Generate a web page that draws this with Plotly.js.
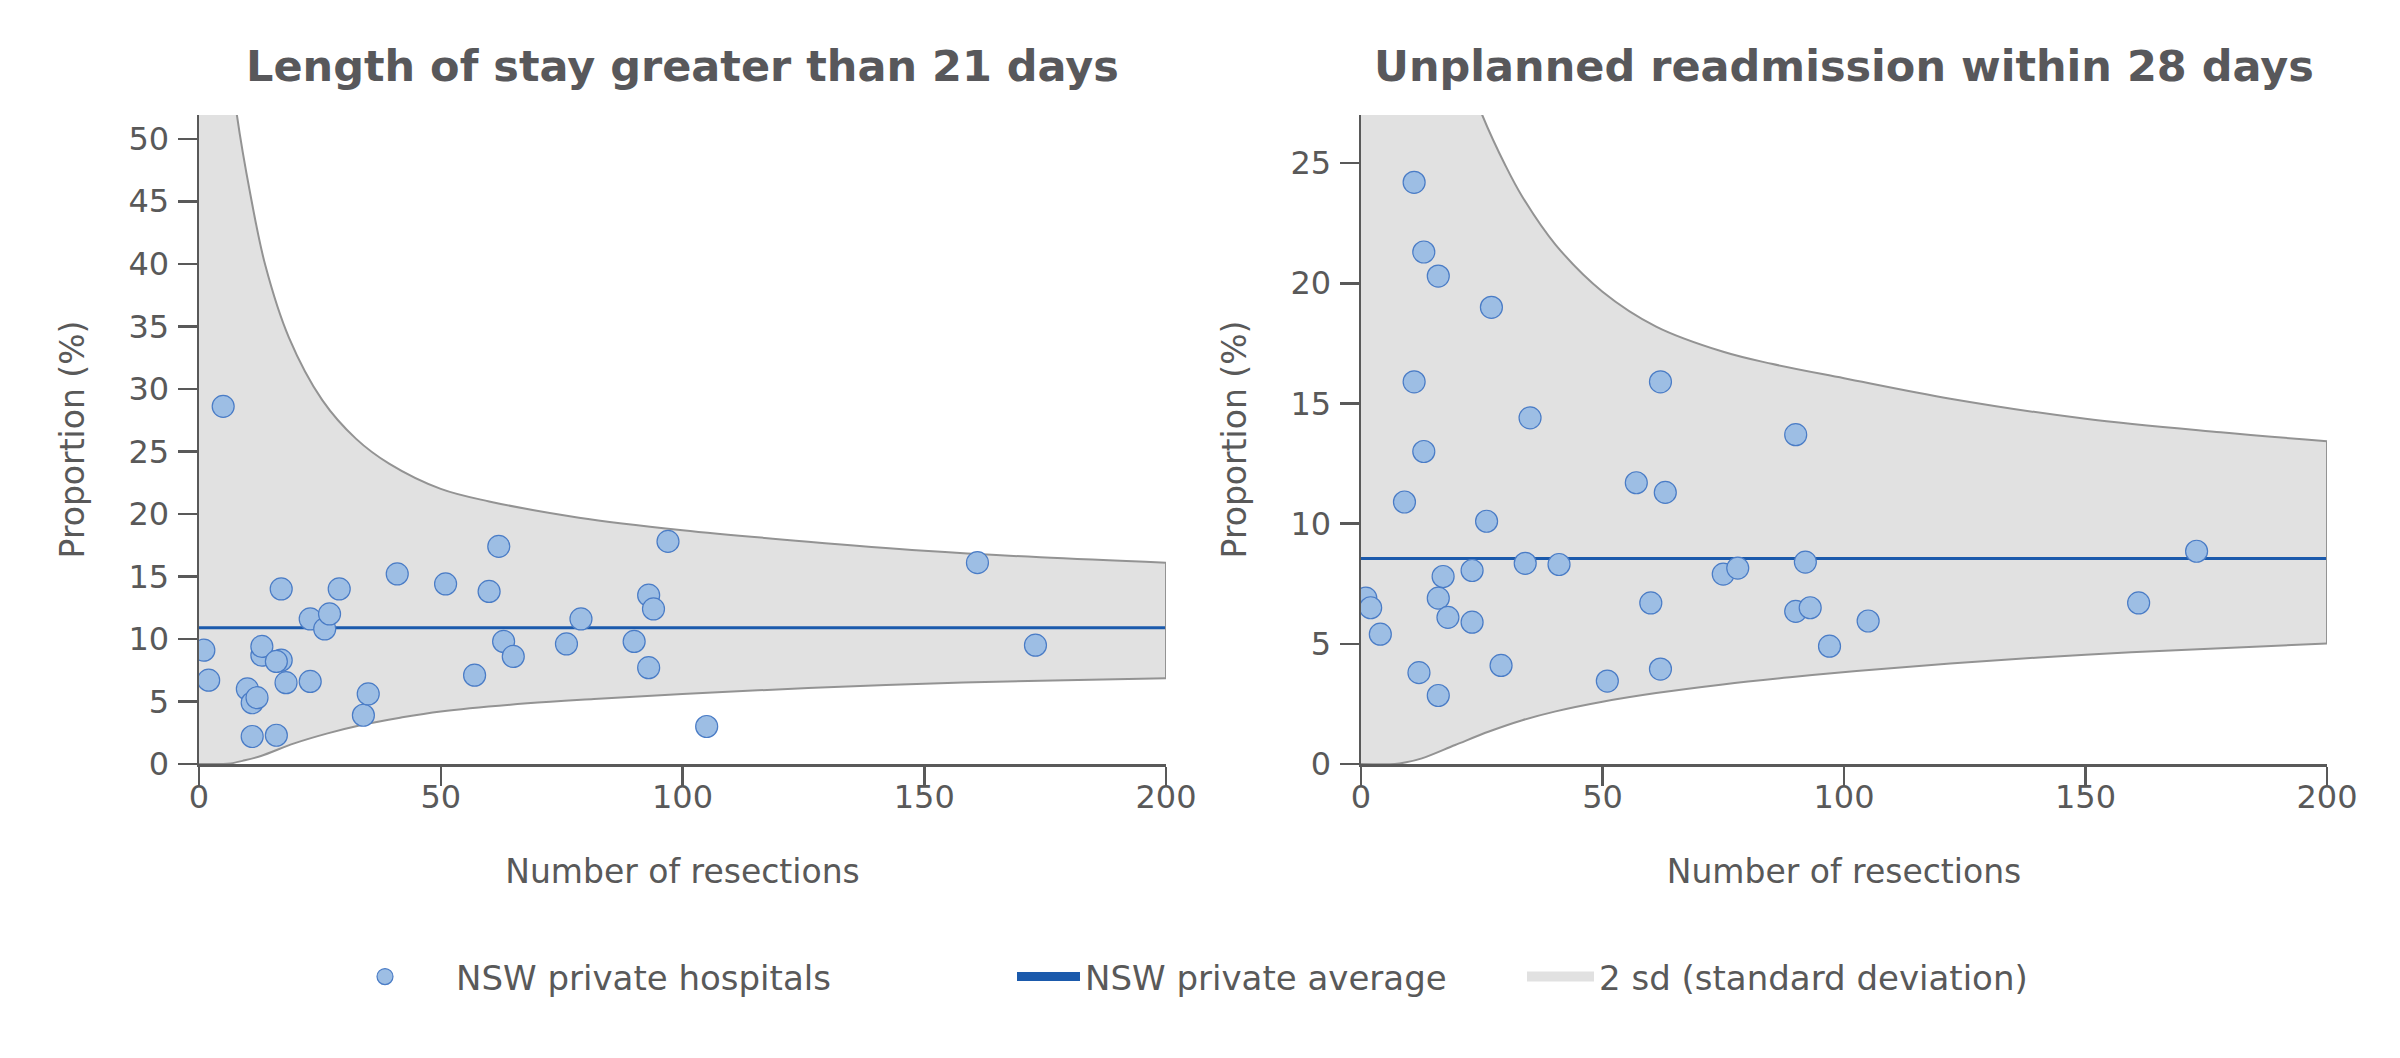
<!DOCTYPE html>
<html>
<head>
<meta charset="utf-8">
<script src="https://cdn.plot.ly/plotly-3.0.1.min.js"></script>
<style>
  body { margin: 0; background: #fff; }
  #myChart { width: 2400px; height: 1058px; }
</style>
</head>
<body>
<div id="myChart"></div>
<script>
// Length of stay > 21 days: one point per hospital
var losX = [1, 2, 5, 10, 11, 12, 11, 13, 13, 17, 17, 16, 16, 18, 23, 23, 26, 27, 29, 34, 35, 41, 51, 57, 60, 62, 63, 65, 76, 79, 90, 93, 94, 93, 97, 105, 161, 173]
var losY = [9.1, 6.7, 28.6, 6.0, 4.9, 5.3, 2.2, 8.7, 9.4, 14.0, 8.3, 8.2, 2.3, 6.5, 11.6, 6.6, 10.8, 12.0, 14.0, 3.9, 5.6, 15.2, 14.4, 7.1, 13.8, 17.4, 9.8, 8.6, 9.6, 11.6, 9.8, 13.5, 12.4, 7.7, 17.8, 3.0, 16.1, 9.5]
var losAvg = 10.9

// 2 sd limits (top ends run off the plot)
var losUpperX = [0, 6, 7.8, 10.6, 13.7, 18.6, 25.5, 32.5, 39.4, 50, 60, 78.6, 100, 126, 150, 174, 200]
var losUpper = [80, 58, 52, 45.6, 39.9, 34.1, 29.1, 26.0, 24.0, 22.0, 21.0, 19.7, 18.7, 17.78, 17.06, 16.53, 16.1]
var losLowerX = [0, 5, 6.6, 9, 12.8, 19.7, 26.6, 33.4, 41.6, 50, 67.9, 81.7, 100, 126, 150, 174, 200]
var losLower = [0, 0, 0.05, 0.25, 0.64, 1.65, 2.45, 3.1, 3.7, 4.2, 4.85, 5.2, 5.6, 6.07, 6.42, 6.66, 6.85]

// Unplanned readmission within 28 days
var readX = [1, 2, 4, 9, 11, 11, 12, 13, 13, 16, 16, 16, 17, 18, 23, 23, 26, 27, 29, 34, 35, 41, 51, 57, 60, 62, 62, 63, 75, 78, 90, 90, 92, 93, 97, 105, 161, 173]
var readY = [6.9, 6.5, 5.4, 10.9, 24.2, 15.9, 3.8, 21.3, 13.0, 20.3, 6.9, 2.85, 7.8, 6.1, 8.05, 5.9, 10.1, 19.0, 4.1, 8.35, 14.4, 8.3, 3.45, 11.7, 6.7, 15.9, 3.95, 11.3, 7.9, 8.15, 6.35, 13.7, 8.4, 6.5, 4.9, 5.95, 6.7, 8.85]
var readAvg = 8.55

var readUpperX = [0, 12, 20, 25.1, 29.9, 33.4, 40.3, 50, 61.1, 75, 85, 100, 122, 150, 178, 200]
var readUpper = [60, 36.8, 29.8, 27.0, 24.9, 23.6, 21.6, 19.65, 18.2, 17.15, 16.65, 16.05, 15.2, 14.36, 13.8, 13.43]
var readLowerX = [0, 7, 9.1, 12.6, 19.5, 26.5, 33.4, 40.3, 50, 61.1, 74.9, 88.8, 102.6, 122, 150, 178, 200]
var readLower = [0, 0, 0.06, 0.235, 0.79, 1.35, 1.82, 2.19, 2.59, 2.95, 3.31, 3.61, 3.87, 4.18, 4.55, 4.82, 5.01]

var xRange = [0, 200]

var pointFill = '#9dbee4'
var pointEdge = '#4a7cc6'
var avgColour = '#1b5aac'
var bandFill = '#e1e1e1'
var bandEdge = '#939393'
var textColour = '#595959'
var font = 'DejaVu Sans'

function panel(xa, ya, px, py, avg, upX, up, loX, lo, legendOn) {
  return [
    {
      x: loX, y: lo, xaxis: xa, yaxis: ya,
      type: 'scatter', mode: 'lines',
      line: {color: bandEdge, width: 2, shape: 'spline', smoothing: 1},
      showlegend: false, hoverinfo: 'skip'
    },
    {
      x: upX, y: up, xaxis: xa, yaxis: ya,
      type: 'scatter', mode: 'lines', fill: 'tonexty', fillcolor: bandFill,
      line: {color: bandEdge, width: 2, shape: 'spline', smoothing: 1},
      showlegend: false, hoverinfo: 'skip'
    },
    {
      x: xRange, y: [avg, avg], xaxis: xa, yaxis: ya,
      type: 'scatter', mode: 'lines',
      line: {color: avgColour, width: 3},
      showlegend: false, hoverinfo: 'skip'
    },
    {
      x: px, y: py, xaxis: xa, yaxis: ya,
      type: 'scatter', mode: 'markers',
      name: 'NSW private hospitals',
      marker: {color: pointFill, size: 22, line: {color: pointEdge, width: 1.2}},
      showlegend: legendOn, legend: 'legend'
    }
  ]
}

var data = []
  .concat(panel('x', 'y', losX, losY, losAvg, losUpperX, losUpper, losLowerX, losLower, true))
  .concat(panel('x2', 'y2', readX, readY, readAvg, readUpperX, readUpper, readLowerX, readLower, false))

// legend keys
data.push({
  x: [null], y: [null], type: 'scatter', mode: 'lines',
  name: 'NSW private average', line: {color: avgColour, width: 9},
  legend: 'legend2'
})
data.push({
  x: [null], y: [null], type: 'scatter', mode: 'lines',
  name: '2 sd (standard deviation)', line: {color: bandFill, width: 11},
  legend: 'legend3'
})

// plot area in pixels
var L = 199, R = 2327, T = 115, B = 764
var W = 2400, H = 1058
var plotW = R - L, plotH = B - T
function px2x(p) { return (p - L) / plotW }
function px2y(p) { return (B - p) / plotH }

function xAxis(dom, anchor) {
  return {
    domain: dom, anchor: anchor, range: xRange, dtick: 50,
    showgrid: false, zeroline: false,
    showline: true, linecolor: textColour, linewidth: 2.5,
    ticks: 'outside', ticklen: 19, tickwidth: 2.5, tickcolor: textColour,
    ticklabelstandoff: -16,
    tickfont: {family: font, size: 32, color: textColour},
    title: {text: 'Number of resections', font: {family: font, size: 33, color: textColour}, standoff: 45}
  }
}
function yAxis(range, anchor) {
  return {
    domain: [0, 1], anchor: anchor, range: range, dtick: 5,
    showgrid: false, zeroline: false,
    showline: true, linecolor: textColour, linewidth: 2.5,
    ticks: 'outside', ticklen: 19, tickwidth: 2.5, tickcolor: textColour,
    ticklabelstandoff: 2,
    tickfont: {family: font, size: 32, color: textColour},
    title: {text: 'Proportion (%)', font: {family: font, size: 33, color: textColour}, standoff: 34}
  }
}
function legendAt(leftPx, itemW) {
  return {
    orientation: 'h', x: px2x(leftPx), xanchor: 'left',
    y: px2y(977), yanchor: 'middle',
    bgcolor: 'rgba(0,0,0,0)', borderwidth: 0, itemwidth: itemW,
    font: {family: font, size: 34, color: textColour}
  }
}

var layout = {
  width: W, height: H,
  margin: {l: L, r: W - R, t: T, b: H - B, autoexpand: false},
  paper_bgcolor: '#ffffff', plot_bgcolor: '#ffffff',
  font: {family: font, color: textColour},
  xaxis: xAxis([0, px2x(1166)], 'y'),
  yaxis: yAxis([0, 51.9], 'x'),
  xaxis2: xAxis([px2x(1361), 1], 'y2'),
  yaxis2: yAxis([0, 27], 'x2'),
  showlegend: true,
  legend: legendAt(314, 132),
  legend2: legendAt(1012, 63),
  legend3: legendAt(1522, 67),
  annotations: [
    {
      text: 'Length of stay greater than 21 days', xref: 'x domain', yref: 'paper',
      x: 0.5, y: px2y(66), xanchor: 'center', yanchor: 'middle', showarrow: false,
      font: {family: font, size: 43, weight: 'bold', color: '#58585b'}
    },
    {
      text: 'Unplanned readmission within 28 days', xref: 'x2 domain', yref: 'paper',
      x: 0.5, y: px2y(66), xanchor: 'center', yanchor: 'middle', showarrow: false,
      font: {family: font, size: 43, weight: 'bold', color: '#58585b'}
    }
  ],
  shapes: [
    {type: 'line', xref: 'x', yref: 'y', x0: xRange[1], x1: xRange[1],
     y0: losLower[losLower.length - 1], y1: losUpper[losUpper.length - 1],
     line: {color: bandEdge, width: 2}, layer: 'above'},
    {type: 'line', xref: 'x2', yref: 'y2', x0: xRange[1], x1: xRange[1],
     y0: readLower[readLower.length - 1], y1: readUpper[readUpper.length - 1],
     line: {color: bandEdge, width: 2}, layer: 'above'}
  ]
}

Plotly.newPlot('myChart', data, layout, {displayModeBar: false, staticPlot: true})
</script>
</body>
</html>
